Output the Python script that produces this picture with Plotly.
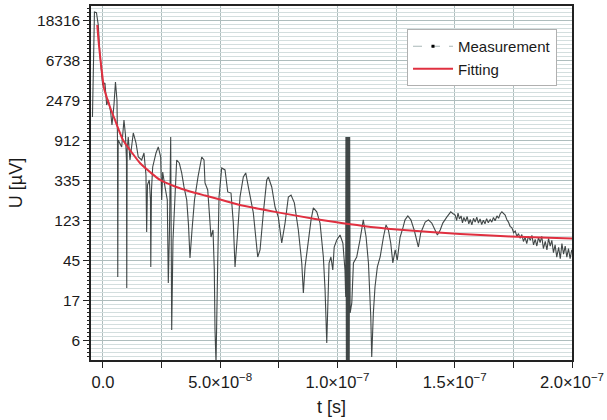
import math
import plotly.graph_objects as go

t_meas_ns = [-4.48, -4.05, -3.63, -2.77, -2.00, -1.28, -0.55, -0.13, 0.85, 1.58, 2.26, 3.28, 3.84, 4.69, 5.33,
             5.97, 6.19, 6.31, 6.48, 7.98, 8.96, 9.60, 10.03, 10.15, 10.32, 10.79, 11.52, 12.93, 14.08, 15.06,
             16.51, 17.49, 18.34, 18.64, 18.98, 19.75, 20.26, 20.39, 20.69, 21.20, 22.61, 23.59, 24.61, 25.04,
             25.47, 26.45, 27.43, 27.86, 28.37, 28.88, 29.09, 29.31, 29.86, 31.44, 32.55, 33.57, 34.55, 35.71,
             36.47, 37.11, 37.97, 39.03, 40.53, 42.11, 43.09, 43.51, 44.67, 45.65, 46.07, 46.93, 47.48, 47.78,
             48.21, 48.93, 49.49, 50.64, 52.05, 53.20, 54.60, 55.59, 56.31, 57.29, 58.44, 59.85, 60.88, 61.99,
             64.12, 65.99, 66.98, 68.38, 69.84, 70.52, 71.97, 73.38, 74.78, 76.23, 77.64, 79.05, 80.20, 81.61,
             83.31, 84.77, 85.45, 86.17, 87.58, 88.73, 89.71, 91.17, 92.57, 93.98, 94.71, 95.43, 96.41, 97.2,
             98.0, 98.6, 99.7, 101.1, 102.3, 103.2, 103.5, 103.6, 103.8, 104.0, 104.2, 104.4, 104.6, 104.8,
             105.0, 105.2, 105.4, 106.1, 106.8, 108.2, 109.6, 110.4, 111.0, 112.2, 113.2, 114.2, 114.6, 115.3, 116.0,
             117.0, 118.2, 119.6, 120.7, 121.7, 122.7, 123.6, 124.6, 125.5, 126.7, 127.9, 128.8, 130.0, 131.3,
             132.7, 133.8, 134.5, 135.5, 137.4, 138.8, 140.2, 141.6, 142.6, 143.8, 144.9, 146.6, 148.3, 149.3,
             150.2, 150.8, 151.4, 152.0, 152.7, 153.3, 153.9, 154.6, 155.3, 156.0, 156.6, 157.3, 158.0, 158.7,
             159.4, 160.1, 160.8, 161.5, 162.2, 162.9, 163.6, 164.3, 165.1, 165.8, 166.5, 167.2, 168.0, 168.7,
             169.4, 170.1, 170.8, 171.5, 172.2, 172.9, 173.6, 174.4, 175.1, 175.8, 176.5, 177.2, 177.9, 178.6,
             179.3, 180.0, 180.7, 181.4, 182.2, 182.9, 183.6, 184.3, 185.0, 185.7, 186.4, 187.1, 187.8, 188.6,
             189.3, 190.0, 190.7, 191.4, 192.1, 192.8, 193.5, 194.3, 195.0, 195.7, 196.4, 197.1, 197.8, 198.5,
             199.2, 199.9]
u_meas_uV = [1662, 11392, 22925, 22500, 16573, 7830, 5119, 3698, 3888, 2243, 2542, 1883, 1361, 2243, 3985,
             2542, 1008, 30.4, 935, 785, 1542, 1060, 567, 23.1, 728, 1008, 567, 1114, 868, 611,
             567, 675, 390, 93.7, 304, 344, 209, 39.1, 268, 476, 675, 785, 611, 209,
             420, 289, 209, 26.2, 98.5, 1008, 209, 8.09, 76.8, 567, 526, 410, 289, 209,
             112, 48.9, 98.5, 209, 371, 611, 567, 319, 268, 127, 82.7, 98.5, 36.3, 8.09,
             3.5, 43.2, 225, 464, 442, 255, 248, 117, 39.1, 82.7, 225, 371, 410, 289,
             151, 50.2, 59.8, 151, 344, 371, 289, 175, 136, 71.2, 117, 225, 236, 194,
             98.5, 43.2, 20.4, 39.1, 76.8, 127, 171, 155, 117, 50.2, 22.0, 5.84, 43.2, 50.2,
             36.3, 64.4, 76.8, 87.0, 71.2, 36.3, 18.5, 1008, 3.5, 1008, 3.5, 1008, 3.5, 1008,
             3.5, 1008, 12.4, 15.9, 43.2, 50.2, 76.8, 98.5, 127, 82.7, 43.2, 11.2, 4.12, 12.4, 23.7,
             39.1, 50.2, 82.7, 112, 98.5, 71.2, 43.2, 59.8, 46.5, 82.7, 104, 127, 140, 127,
             98.5, 76.8, 64.4, 91.4, 120, 127, 117, 98.5, 87.0, 98.5, 117, 136, 155, 148,
             143, 125, 150, 130, 140, 118, 135, 122, 138, 115, 128, 112, 132, 120,
             136, 117, 130, 113, 126, 115, 131, 118, 128, 120, 135, 124, 140, 132,
             148, 155, 150, 143, 128, 120, 108, 104, 92, 96, 84, 90, 80, 88,
             74, 82, 70, 84, 76, 86, 68, 78, 66, 82, 72, 84, 62, 74,
             60, 80, 66, 76, 56, 68, 50, 64, 48, 70, 54, 66, 50, 62,
             48, 60]

# Fitting curve (t in ns, U in µV)
t_fit_ns = [-2.43, -1.92, -1.28, -0.55, 0.43, 1.71, 2.99, 5.12, 8.53, 11.52, 15.78, 20.05, 24.32, 30.72,
            37.11, 43.51, 49.91, 57.59, 73.38, 90.44, 98.97, 110.9, 125.4, 139.5, 152.3, 173.6, 200.1]
u_fit_uV = [16573, 11392, 7830, 5382, 3432, 2672, 2134, 1542, 935, 728, 526, 420, 344, 292,
            258, 233, 211, 186, 155, 130, 120, 109, 99.8, 93.7, 89.2, 83.8, 79.7]

# Axis ticks
y_tick_vals = [6.144, 16.70, 45.40, 123.4, 335.5, 912.0, 2479, 6738, 18316]
y_tick_text = ["6", "17", "45", "123", "335", "912", "2479", "6738", "18316"]
x_tick_vals = [0, 5e-8, 1e-7, 1.5e-7, 2e-7]
x_tick_text = ["0.0", "5.0×10<sup>−8</sup>", "1.0×10<sup>−7</sup>", "1.5×10<sup>−7</sup>", "2.0×10<sup>−7</sup>"]
x_minor_vals = [2.5e-8, 7.5e-8, 1.25e-7, 1.75e-7]

t_meas = [v * 1e-9 for v in t_meas_ns]
t_fit = [v * 1e-9 for v in t_fit_ns]

y_minor = [math.exp(0.8155 + 0.1 * k) for k in range(5, 95) if k % 10 != 0]
y_range = [0.582, 4.4256]

fig = go.Figure()
fig.add_trace(go.Scatter(x=t_meas, y=u_meas_uV, mode="lines", showlegend=False,
                         line=dict(color="rgba(45,52,52,0.9)", width=1.1)))
fig.add_trace(go.Scatter(x=[None], y=[None], mode="lines+markers", name="Measurement",
                         line=dict(color="#a9b8b8", width=1.2, dash="dash"),
                         marker=dict(color="black", size=3, symbol="square")))
fig.add_trace(go.Scatter(x=t_fit, y=u_fit_uV, mode="lines", name="Fitting",
                         line=dict(color="#e03040", width=2, shape="spline", smoothing=0.6)))
# invisible trace on the overlay axis that carries the minor grid
fig.add_trace(go.Scatter(x=[None], y=[None], yaxis="y2", showlegend=False, hoverinfo="skip"))

font = "Liberation Sans, Arial, sans-serif"
fig.update_layout(
    width=607, height=420,
    margin=dict(l=91, r=35, t=6, b=60, autoexpand=False),
    paper_bgcolor="white", plot_bgcolor="white",
    font=dict(family=font, size=15.5, color="#1a1a1a"),
    legend=dict(x=0.657, y=0.935, xanchor="left", yanchor="top", bgcolor="white",
                bordercolor="#b0b0b0", borderwidth=1, font=dict(size=15), tracegroupgap=0,
                itemwidth=40),
    xaxis=dict(range=[-5.1e-9, 2.0e-7], tickmode="array", tickvals=x_tick_vals, ticktext=x_tick_text,
               ticks="outside", ticklen=6, tickwidth=1.2, tickcolor="#222", automargin=False,
               tickfont=dict(size=16.5),
               showline=True, linecolor="#222", linewidth=1.5, mirror=True,
               showgrid=True, gridcolor="#aebdbd", gridwidth=1, zeroline=False,
               minor=dict(tickmode="array", tickvals=x_minor_vals, ticks="outside", ticklen=6,
                          tickcolor="#222", showgrid=True, gridcolor="#aebdbd"),
               title=dict(text="t [s]", font=dict(size=18), standoff=11)),
    yaxis=dict(type="log", range=y_range, tickmode="array", tickvals=y_tick_vals,
               ticktext=y_tick_text, ticks="outside", ticklen=6, tickwidth=1.2, tickcolor="#222",
               automargin=False,
               showline=True, linecolor="#222", linewidth=1.5, mirror=True,
               showgrid=True, gridcolor="#aebdbd", gridwidth=1, zeroline=False,
               title=dict(text="U [µV]", font=dict(size=18), standoff=10)),
    yaxis2=dict(type="log", range=y_range, overlaying="y", side="left", tickmode="array",
                tickvals=y_minor, showticklabels=False, ticks="outside", ticklen=3, tickwidth=1,
                tickcolor="#222", showgrid=True, gridcolor="#d3dede", gridwidth=1,
                zeroline=False, showline=False, automargin=False),
)

fig.write_html("out.html", config={"displayModeBar": False},
               post_script="document.body.style.margin='0';document.body.style.padding='0';")
